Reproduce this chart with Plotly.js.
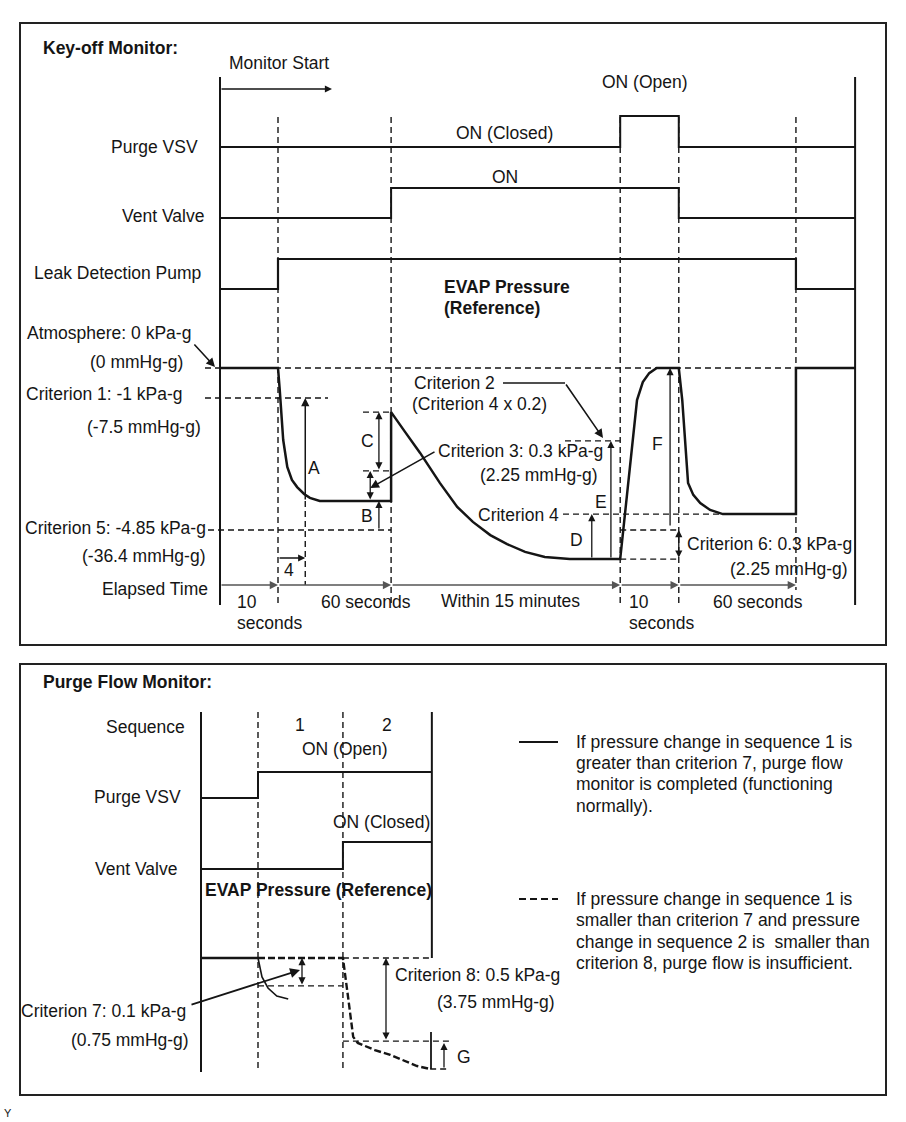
<!DOCTYPE html>
<html><head><meta charset="utf-8">
<script src="https://cdn.plot.ly/plotly-3.0.1.min.js"></script>
<style>html,body{margin:0;padding:0;background:#fff}#chart{width:906px;height:1122px}</style>
</head><body><div id="chart"></div>
<script>
// ================= DATA (schematic units) =================
// ---- Key-off monitor ----
// phase boundaries on the schematic time axis
const keyOffEdges = [0, 10, 29.5, 69.0, 79.1, 99.3, 109.5];
const keyOffPhaseLabels = ["10", "60 seconds", "Within 15 minutes", "10", "60 seconds"];
// signal state per phase (1 = ON)
const keyOffPurgeVSV = [0, 0, 0, 1, 0, 0];
const keyOffVentValve = [0, 0, 1, 1, 0, 0];
const keyOffLeakPump = [0, 1, 1, 1, 1, 0];
// EVAP pressure (reference) curve: schematic time / schematic pressure level
const keyOffPressT = [0, 10, 10.3, 10.9, 11.6, 12.4, 13.3, 14.5, 15.5, 17.2,
  29.5, 29.5, 31.9, 34.5, 37.9, 40.9, 43.6, 46.6, 49.5, 52.6,
  56.0, 60.3, 69.0, 71.9, 72.9, 74.0, 75.3, 79.1, 79.7, 80.2,
  80.7, 81.6, 82.8, 84.5, 86.7, 99.3, 99.3, 109.5];
const keyOffPressP = [0, 0, -0.73, -2.4, -3.3, -3.73, -3.97, -4.2, -4.33, -4.43,
  -4.43, -1.47, -2.13, -2.83, -3.83, -4.63, -5.13, -5.57, -5.87, -6.13,
  -6.3, -6.37, -6.37, -1.07, -0.47, -0.17, 0, 0, -1.07, -2.4,
  -3.83, -4.23, -4.5, -4.73, -4.87, -4.87, 0, 0];
// criterion / reference levels (schematic pressure)
const levelAtm = 0, levelCrit1 = -1.0, levelRef = -4.43, levelCrit5 = -5.4;
const levelVentJump = -1.47, levelCLow = -3.43, levelCrit3 = -2.43;
const levelCrit4 = -4.87, levelLow = -6.37, levelCrit6 = -5.4;
// measurement instants (schematic time)
const tCheckA = 14.7, tCheckC = 27.4, tCheckB3 = 25.9, tCheckD = 64.1, tCheckE = 67.4, tCheckF = 77.6;

// ---- Purge flow monitor ----
const purgeEdges = [0, 10, 24.9, 40.5];
const purgeSeqLabels = ["1", "2"];
const purgeFlowVSV = [0, 1, 1];
const purgeFlowVent = [0, 0, 1];
const purgeBaseT = [0, 10];
const purgeBaseP = [0, 0];
const purgeNormalT = [10, 10.7, 11.75, 13.3, 15.3];
const purgeNormalP = [0, -0.63, -1.0, -1.27, -1.37];
const purgeInsufT = [10, 24.9, 25.8, 26.7, 27.5, 30.5, 33.2, 35.8, 37.9, 40.2];
const purgeInsufP = [0, 0, -1.3, -2.63, -2.83, -3.07, -3.23, -3.43, -3.6, -3.7];
const levelCrit7 = -0.93, levelCrit8 = -2.77, levelG = -3.7, levelGTop = -2.83;

// ================= GEOMETRY (layout only) =================
const W = 906, H = 1122;
const geo = {
  top: {x0: 220, ppt: 5.8, p0: 368, ppp: 30,
        rows: {purge: [147, 116], vent: [218, 188], pump: [289, 259]}},
  bot: {x0: 201, ppt: 5.7, p0: 958, ppp: 30,
        rows: {purge: [798, 772], vent: [869, 842]}}
};
const rangeX = (x0, ppt) => [-x0 / ppt, (W - x0) / ppt];
const rangeY = (p0, ppp) => [(p0 - H) / ppp, p0 / ppp];
// convert pixel heights to panel units (for positions of guide marks only)
const pT = py => (geo.top.p0 - py) / geo.top.ppp;
const pB = py => (geo.bot.p0 - py) / geo.bot.ppp;
const tT = px => (px - geo.top.x0) / geo.top.ppt;
const tB = px => (px - geo.bot.x0) / geo.bot.ppt;

const INK = '#151515';
const FONT = 'Liberation Sans, Arial, Helvetica, sans-serif';
const FS = 17.5;
const DASH = '6px,4px';

function axisBase(extra) {
  return Object.assign({visible: false, showgrid: false, zeroline: false, fixedrange: true, domain: [0, 1]}, extra);
}

const layout = {
  width: W, height: H, margin: {l: 0, r: 0, t: 0, b: 0},
  paper_bgcolor: '#fff', plot_bgcolor: 'rgba(0,0,0,0)', showlegend: false,
  xaxis: axisBase({range: rangeX(geo.top.x0, geo.top.ppt), anchor: 'y'}),
  xaxis2: axisBase({range: rangeX(geo.bot.x0, geo.bot.ppt), overlaying: 'x', anchor: 'y5'}),
  yaxis: axisBase({range: rangeY(geo.top.p0, geo.top.ppp), anchor: 'x'}),
  yaxis2: axisBase({range: rangeY(geo.top.rows.purge[0], geo.top.rows.purge[0] - geo.top.rows.purge[1]), overlaying: 'y', anchor: 'x'}),
  yaxis3: axisBase({range: rangeY(geo.top.rows.vent[0], geo.top.rows.vent[0] - geo.top.rows.vent[1]), overlaying: 'y', anchor: 'x'}),
  yaxis4: axisBase({range: rangeY(geo.top.rows.pump[0], geo.top.rows.pump[0] - geo.top.rows.pump[1]), overlaying: 'y', anchor: 'x'}),
  yaxis5: axisBase({range: rangeY(geo.bot.p0, geo.bot.ppp), overlaying: 'y', anchor: 'x2'}),
  yaxis6: axisBase({range: rangeY(geo.bot.rows.purge[0], geo.bot.rows.purge[0] - geo.bot.rows.purge[1]), overlaying: 'y', anchor: 'x2'}),
  yaxis7: axisBase({range: rangeY(geo.bot.rows.vent[0], geo.bot.rows.vent[0] - geo.bot.rows.vent[1]), overlaying: 'y', anchor: 'x2'}),
  shapes: [], annotations: []
};

// ================= TRACES =================
function stepTrace(edges, states, xa, ya, width) {
  const x = [], y = [];
  states.forEach((s, i) => { x.push(edges[i], edges[i + 1]); y.push(s, s); });
  return {type: 'scatter', mode: 'lines', x, y, xaxis: xa, yaxis: ya,
          line: {color: INK, width: width}, hoverinfo: 'skip'};
}
function lineTrace(x, y, xa, ya, width, dash) {
  return {type: 'scatter', mode: 'lines', x, y, xaxis: xa, yaxis: ya,
          line: {color: INK, width: width, dash: dash || 'solid'}, hoverinfo: 'skip'};
}
const traces = [
  stepTrace(keyOffEdges, keyOffPurgeVSV, 'x', 'y2', 2),
  stepTrace(keyOffEdges, keyOffVentValve, 'x', 'y3', 2),
  stepTrace(keyOffEdges, keyOffLeakPump, 'x', 'y4', 2.2),
  lineTrace(keyOffPressT, keyOffPressP, 'x', 'y', 2.5),
  stepTrace(purgeEdges, purgeFlowVSV, 'x2', 'y6', 2),
  stepTrace(purgeEdges, purgeFlowVent, 'x2', 'y7', 2),
  lineTrace(purgeBaseT, purgeBaseP, 'x2', 'y5', 2.6),
  lineTrace(purgeNormalT, purgeNormalP, 'x2', 'y5', 1.6),
  lineTrace(purgeInsufT, purgeInsufP, 'x2', 'y5', 2.4, '7px,3px')
];

// ================= SHAPES =================
const S = layout.shapes;
function seg(xref, yref, x0, y0, x1, y1, width, dash, color) {
  S.push({type: 'line', xref, yref, x0, y0, x1, y1, layer: 'below',
          line: {color: color || INK, width: width, dash: dash || 'solid'}});
}
function rectPx(x0, y0, x1, y1) {
  S.push({type: 'rect', xref: 'paper', yref: 'paper', x0: x0 / W, x1: x1 / W,
          y0: 1 - y1 / H, y1: 1 - y0 / H, line: {color: '#222', width: 2}, fillcolor: 'rgba(0,0,0,0)'});
}
rectPx(20, 23, 886, 645);
rectPx(20, 664, 886, 1095);

// --- top panel guides ---
const topAxisTop = pT(77), topAxisBot = pT(605), dashTop = pT(117);
seg('x', 'y', keyOffEdges[0], topAxisTop, keyOffEdges[0], topAxisBot, 2);
seg('x', 'y', keyOffEdges[6], topAxisTop, keyOffEdges[6], topAxisBot, 2);
[1, 2, 3, 4].forEach(i => seg('x', 'y', keyOffEdges[i], dashTop, keyOffEdges[i], topAxisBot, 1.4, DASH));
seg('x', 'y', keyOffEdges[5], dashTop, keyOffEdges[5], pT(590), 1.4, DASH);
// horizontal criterion guides
seg('x', 'y', tT(205), levelAtm, keyOffEdges[5], levelAtm, 1.4, DASH);
seg('x', 'y', tT(205), levelCrit1, tT(328), levelCrit1, 1.4, DASH);
seg('x', 'y', tT(208), levelCrit5, keyOffEdges[2], levelCrit5, 1.4, DASH);
seg('x', 'y', tT(363), levelVentJump, keyOffEdges[2], levelVentJump, 1.4, DASH);
seg('x', 'y', tT(363), levelCLow, keyOffEdges[2], levelCLow, 1.4, DASH);
seg('x', 'y', tT(565), levelCrit3, keyOffEdges[3], levelCrit3, 1.4, DASH);
seg('x', 'y', tT(563), levelCrit4, 86.7, levelCrit4, 1.4, DASH);
seg('x', 'y', keyOffEdges[3], levelCrit6, keyOffEdges[4], levelCrit6, 1.4, DASH);
seg('x', 'y', keyOffEdges[3], levelLow, keyOffEdges[4], levelLow, 1.4, DASH);
seg('x', 'y', tCheckA, levelRef, tCheckA, pT(585), 1.4, DASH);
// criterion 2 leader (horizontal part)
seg('x', 'y', tT(503), pT(383), tT(565), pT(383), 1.6);

// --- bottom panel guides ---
const botTop = pB(712), botBot = pB(1072);
seg('x2', 'y5', purgeEdges[0], botTop, purgeEdges[0], botBot, 2);
seg('x2', 'y5', purgeEdges[3], botTop, purgeEdges[3], levelAtm, 2);
[1, 2].forEach(i => seg('x2', 'y5', purgeEdges[i], botTop, purgeEdges[i], botBot, 1.4, DASH));
seg('x2', 'y5', purgeEdges[2], levelAtm, purgeEdges[3], levelAtm, 1.4, DASH);
seg('x2', 'y5', purgeEdges[1], levelCrit7, purgeEdges[2], levelCrit7, 1.4, DASH);
seg('x2', 'y5', purgeEdges[2], levelCrit8, tB(450), levelCrit8, 1.4, DASH);
seg('x2', 'y5', 40.2, levelG, tB(450), levelG, 1.4, DASH);
seg('x2', 'y5', tB(431), pB(1032), tB(431), levelG, 1.8);
// legend samples
S.push({type: 'line', xref: 'paper', yref: 'paper', x0: 519 / W, x1: 558 / W, y0: 1 - 742 / H, y1: 1 - 742 / H, line: {color: INK, width: 2}});
S.push({type: 'line', xref: 'paper', yref: 'paper', x0: 519 / W, x1: 558 / W, y0: 1 - 899 / H, y1: 1 - 899 / H, line: {color: INK, width: 2, dash: '7px,4px'}});

// ================= ANNOTATIONS =================
const A = layout.annotations;
function arrow(xref, yref, x, y, ax, ay, o) {
  o = o || {};
  A.push({xref, yref, axref: xref, ayref: yref, x, y, ax, ay, text: '', showarrow: true,
          arrowhead: 2, startarrowhead: 2, arrowsize: o.size || 1.1, startarrowsize: o.size || 1.1,
          arrowwidth: o.width || 1.5, arrowcolor: o.color || INK,
          arrowside: o.both ? 'end+start' : 'end', standoff: 0, startstandoff: 0});
}
function txt(x, y, text, anchor, o) {
  o = o || {};
  A.push({xref: 'paper', yref: 'paper', x: x / W, y: 1 - y / H, text: o.bold ? '<b>' + text + '</b>' : text,
          showarrow: false, xanchor: anchor, yanchor: 'middle',
          font: {family: FONT, size: o.size || FS, color: INK}});
}

// top arrows
arrow('x', 'y', tT(332), pT(89), keyOffEdges[0], pT(89), {width: 1.3});                 // monitor start
for (let i = 0; i < 5; i++) {
  arrow('x', 'y', keyOffEdges[i + 1], pT(585), keyOffEdges[i], pT(585), {color: '#555', width: 1.5});
}
arrow('x', 'y', tCheckA, levelCrit1, tCheckA, levelRef);                                  // A
arrow('x', 'y', tCheckA, pT(558), keyOffEdges[1], pT(558), {width: 1.3});                // 4
arrow('x', 'y', tCheckC, levelVentJump, tCheckC, levelCLow, {both: true, width: 1.3});   // C
arrow('x', 'y', tCheckC, levelRef, tCheckC, levelCrit5, {width: 1.3});                    // B
arrow('x', 'y', tCheckB3, levelCLow, tCheckB3, levelRef, {both: true, width: 1.3});      // 0.3 bracket
arrow('x', 'y', tCheckB3, pT(488), tT(436), pT(451), {width: 1.6});                      // criterion 3 leader
arrow('x', 'y', tT(603), pT(438), tT(565), pT(383), {width: 1.6});                       // criterion 2 leader
arrow('x', 'y', tT(215), pT(367), tT(193), pT(343), {width: 1.6});                       // atmosphere leader
arrow('x', 'y', tCheckD, levelCrit4, tCheckD, levelLow, {width: 1.3});                    // D
arrow('x', 'y', tCheckE, levelCrit3, tCheckE, levelLow, {width: 1.3});                    // E
arrow('x', 'y', tCheckF, levelAtm, tCheckF, pT(527), {width: 1.3});                       // F
arrow('x', 'y', keyOffEdges[4], levelCrit6, keyOffEdges[4], levelLow, {both: true, width: 1.3}); // crit 6

// bottom arrows
arrow('x2', 'y5', tB(302), levelAtm, tB(302), levelCrit7, {both: true, width: 1.3});
arrow('x2', 'y5', tB(300), pB(970), tB(190), pB(1005), {width: 1.8});
arrow('x2', 'y5', tB(386), levelAtm, tB(386), levelCrit8, {both: true, width: 1.3});
arrow('x2', 'y5', tB(444), levelGTop, tB(444), levelG, {width: 1.3});

// ---- top panel texts ----
txt(41, 48, 'Key-off Monitor:', 'left', {bold: true});
txt(227, 63, 'Monitor Start', 'left');
txt(645, 82, 'ON (Open)', 'center');
txt(200, 147, 'Purge VSV', 'right');
txt(505, 133, 'ON (Closed)', 'center');
txt(206, 216, 'Vent Valve', 'right');
txt(505, 177, 'ON', 'center');
txt(203, 273, 'Leak Detection Pump', 'right');
txt(442, 287, 'EVAP Pressure', 'left', {bold: true});
txt(442, 308, '(Reference)', 'left', {bold: true});
txt(25, 333, 'Atmosphere: 0 kPa-g', 'left');
txt(185, 362, '(0 mmHg-g)', 'right');
txt(185, 394, 'Criterion 1: -1 kPa-g', 'right');
txt(203, 427, '(-7.5 mmHg-g)', 'right');
txt(208, 528, 'Criterion 5: -4.85 kPa-g', 'right');
txt(208, 556, '(-36.4 mmHg-g)', 'right');
txt(210, 589, 'Elapsed Time', 'right');
txt(314, 468, 'A', 'center');
txt(367, 516, 'B', 'center');
txt(367, 441, 'C', 'center');
txt(289, 570, '4', 'center');
txt(576, 540, 'D', 'center');
txt(601, 502, 'E', 'center');
txt(657, 444, 'F', 'center');
txt(412, 383, 'Criterion 2', 'left');
txt(410, 404, '(Criterion 4 x 0.2)', 'left');
txt(436, 451, 'Criterion 3: 0.3 kPa-g', 'left');
txt(600, 475, '(2.25 mmHg-g)', 'right');
txt(561, 515, 'Criterion 4', 'right');
txt(685, 544, 'Criterion 6: 0.3 kPa-g', 'left');
txt(850, 569, '(2.25 mmHg-g)', 'right');
// phase labels
txt(235, 602, keyOffPhaseLabels[0], 'left');
txt(235, 623, 'seconds', 'left');
txt(366, 602, keyOffPhaseLabels[1], 'center');
txt(510, 601, keyOffPhaseLabels[2], 'center');
txt(627, 602, keyOffPhaseLabels[3], 'left');
txt(627, 623, 'seconds', 'left');
txt(758, 602, keyOffPhaseLabels[4], 'center');

// ---- bottom panel texts ----
txt(41, 682, 'Purge Flow Monitor:', 'left', {bold: true});
txt(187, 727, 'Sequence', 'right');
txt(300, 725, purgeSeqLabels[0], 'center');
txt(387, 725, purgeSeqLabels[1], 'center');
txt(345, 749, 'ON (Open)', 'center');
txt(183, 797, 'Purge VSV', 'right');
txt(381, 822, 'ON (Closed)', 'center');
txt(179, 869, 'Vent Valve', 'right');
txt(203, 890, 'EVAP Pressure (Reference)', 'left', {bold: true});
txt(188, 1011, 'Criterion 7: 0.1 kPa-g', 'right');
txt(191, 1040, '(0.75 mmHg-g)', 'right');
txt(393, 975, 'Criterion 8: 0.5 kPa-g', 'left');
txt(557, 1002, '(3.75 mmHg-g)', 'right');
txt(455, 1057, 'G', 'left');
const legendSolid = ['If pressure change in sequence 1 is', 'greater than criterion 7, purge flow',
  'monitor is completed (functioning', 'normally).'];
const legendDashed = ['If pressure change in sequence 1 is', 'smaller than criterion 7 and pressure',
  'change in sequence 2 is&nbsp; smaller than', 'criterion 8, purge flow is insufficient.'];
[742, 763, 784, 806].forEach((y, i) => txt(574, y, legendSolid[i], 'left'));
[899, 920, 942, 963].forEach((y, i) => txt(574, y, legendDashed[i], 'left'));
txt(8, 1113, 'Y', 'center', {size: 11});

Plotly.newPlot('chart', traces, layout, {staticPlot: true, displayModeBar: false});
</script>
</body></html>
